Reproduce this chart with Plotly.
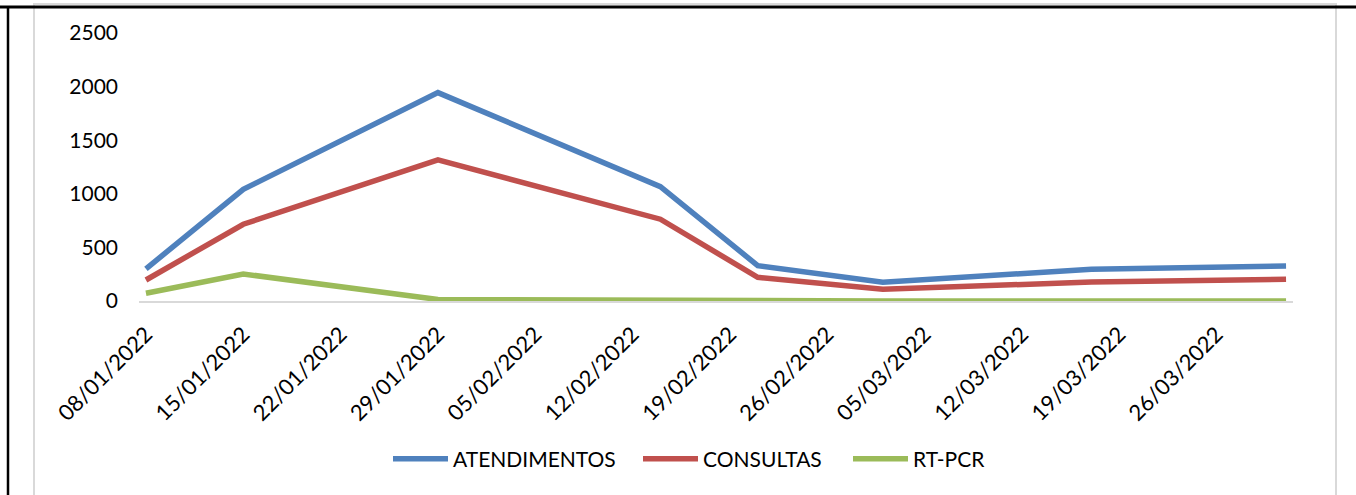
import plotly.graph_objects as go

dates = ["2022-01-08", "2022-01-15", "2022-01-29", "2022-02-14",
         "2022-02-21", "2022-03-02", "2022-03-17", "2022-03-31"]
atendimentos = [300, 1042, 1944, 1067, 330, 175, 296, 327]
consultas = [196, 716, 1316, 763, 221, 109, 177, 202]
rt_pcr = [72, 252, 14, 3, 1, 0, 0, 0]

series = [("ATENDIMENTOS", atendimentos, "#4F81BD", "legend", 393),
          ("CONSULTAS", consultas, "#C0504D", "legend2", 643),
          ("RT-PCR", rt_pcr, "#9BBB59", "legend3", 853)]

FONT = "Lato"

W, H = 1356, 495
L, R, T, B = 139, 63, 33, 194
pw, ph = W - L - R, H - T - B


def px(x):
    return (x - L) / pw


def py(y):
    return (H - B - y) / ph


fig = go.Figure()
for name, vals, color, leg, _ in series:
    fig.add_trace(go.Scatter(x=dates, y=vals, name=name, mode="lines",
                             line=dict(color=color, width=5.5), legend=leg))

legends = {}
for name, vals, color, leg, x0 in series:
    legends[leg] = dict(orientation="h", x=px(x0 - 5), xanchor="left", y=py(459), yanchor="middle",
                        font=dict(family=FONT, size=21, color="black"), itemwidth=55,
                        bgcolor="rgba(0,0,0,0)")

fig.update_layout(
    width=W, height=H,
    margin=dict(l=L, r=R, t=T, b=B),
    paper_bgcolor="white", plot_bgcolor="white",
    font=dict(family=FONT, size=21, color="black"),
    showlegend=True,
    xaxis=dict(type="date", range=["2022-01-07 12:00", "2022-03-31 12:00"],
               tick0="2022-01-08", dtick=7 * 86400000, tickformat="%d/%m/%Y",
               tickangle=-45, showgrid=False, zeroline=False,
               showline=True, linecolor="#D9D9D9", linewidth=1.5,
               ticks="", ticklabelstandoff=10, tickfont=dict(size=22)),
    yaxis=dict(range=[0, 2500], dtick=500, showgrid=False, zeroline=False,
               showline=False, ticks="", ticklabelstandoff=20),
    shapes=[
        dict(type="rect", xref="paper", yref="paper", x0=px(34), x1=px(1336), y0=py(600), y1=py(4),
             line=dict(color="#D9D9D9", width=2), fillcolor="rgba(0,0,0,0)", layer="below"),
        dict(type="line", xref="paper", yref="paper", x0=px(0), x1=px(1356), y0=py(7), y1=py(7),
             line=dict(color="black", width=3)),
        dict(type="line", xref="paper", yref="paper", x0=px(8), x1=px(8), y0=py(7), y1=py(495),
             line=dict(color="black", width=2.5)),
    ],
    **legends,
)

fig.write_html("out.html", config={"displayModeBar": False},
               post_script="document.body.style.margin='0';document.body.style.overflow='hidden';")
